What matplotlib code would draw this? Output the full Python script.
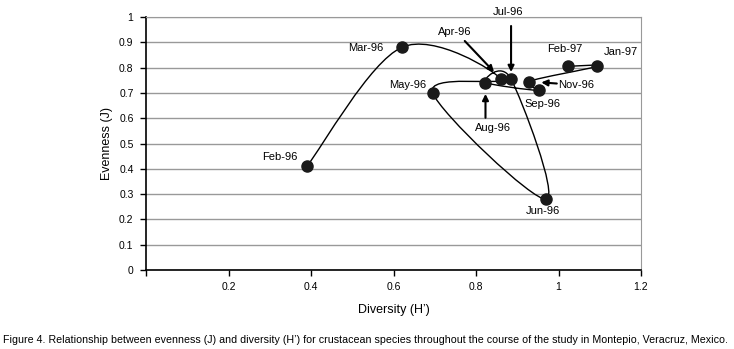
import numpy as np
import matplotlib.pyplot as plt
from matplotlib.path import Path
from matplotlib.patches import PathPatch

# sampling months, in order of the study
months = ["Feb-96", "Mar-96", "Apr-96", "May-96", "Jun-96", "Jul-96",
          "Aug-96", "Sep-96", "Nov-96", "Jan-97", "Feb-97"]
diversity = [0.39, 0.62, 0.86, 0.695, 0.97, 0.885, 0.823, 0.952, 0.928, 1.093, 1.022]
evenness = [0.41, 0.88, 0.755, 0.70, 0.28, 0.755, 0.74, 0.71, 0.745, 0.805, 0.805]

x_ticks = [0, 0.2, 0.4, 0.6, 0.8, 1.0, 1.2]
x_ticklabels = ["", "0.2", "0.4", "0.6", "0.8", "1", "1.2"]
y_ticks = [0, 0.1, 0.2, 0.3, 0.4, 0.5, 0.6, 0.7, 0.8, 0.9, 1.0]
y_ticklabels = ["0", "0.1", "0.2", "0.3", "0.4", "0.5", "0.6", "0.7", "0.8", "0.9", "1"]

caption = ("Figure 4. Relationship between evenness (J) and diversity (H\u2019) for crustacean "
           "species throughout the course of the study in Montepio, Veracruz, Mexico.")

plt.rcParams['font.family'] = ['Liberation Sans Narrow', 'Liberation Sans', 'DejaVu Sans']

fig = plt.figure(figsize=(7.34, 3.49), dpi=100)
ax = fig.add_axes([146 / 734, 1 - 270 / 349, 495 / 734, 253 / 349])
ax.set_xlim(0, 1.2)
ax.set_ylim(0, 1)

ax.set_yticks(y_ticks)
ax.set_yticklabels(y_ticklabels)
ax.set_xticks(x_ticks)
ax.set_xticklabels(x_ticklabels)
ax.tick_params(labelsize=7.5, length=4, width=1, direction='out', color='black')
ax.tick_params(axis='x', pad=5)
ax.tick_params(axis='y', pad=5)
ax.grid(axis='y', color='#999999', lw=1)
ax.set_axisbelow(True)
for s in ['top', 'right']:
    ax.spines[s].set_color('#999999')
for s in ['left', 'bottom']:
    ax.spines[s].set_color('black')
    ax.spines[s].set_linewidth(1.2)

ax.set_xlabel("Diversity (H\u2019)", fontsize=9, labelpad=8.5)
ax.set_ylabel("Evenness (J)", fontsize=9, labelpad=4)

# smoothed line like Excel: cubic bezier, control points from neighbours (in pixel space)
pts = ax.transData.transform(np.column_stack([diversity, evenness]))
n = len(pts)
verts = [pts[0]]
codes = [Path.MOVETO]
for i in range(n - 1):
    p0 = pts[max(i - 1, 0)]
    p1 = pts[i]
    p2 = pts[i + 1]
    p3 = pts[min(i + 2, n - 1)]
    c1 = p1 + (p2 - p0) / 6
    c2 = p2 - (p3 - p1) / 6
    verts += [c1, c2, p2]
    codes += [Path.CURVE4] * 3
verts = ax.transData.inverted().transform(np.array(verts))
ax.add_patch(PathPatch(Path(verts, codes), fill=False, color='black', lw=1.0, zorder=3))

ax.plot(diversity, evenness, 'o', color='#1a1a1a', markersize=8, zorder=4, clip_on=False)

fs = 8
# labels next to points (offsets in pixels)
label_offsets = {
    "Feb-96": (-27, 9), "Mar-96": (-36, -1), "May-96": (-25, 8),
    "Sep-96": (4, -14), "Feb-97": (-3, 17), "Jan-97": (24, 14), "Jun-96": (-3, -12),
}
for m, (dx, dy) in label_offsets.items():
    i = months.index(m)
    ax.annotate(m, (diversity[i], evenness[i]), xytext=(dx, dy), textcoords='offset pixels',
                ha='center', va='center', fontsize=fs)

# labels with arrows
arrow_kw = dict(arrowstyle='-|>', color='black', lw=1.5, mutation_scale=9)
i = months.index("Apr-96")
ax.annotate("", (diversity[i], evenness[i]), xytext=(-36, 38), textcoords='offset pixels',
            arrowprops=dict(shrinkA=0, shrinkB=7, **arrow_kw))
ax.annotate("Apr-96", (diversity[i], evenness[i]), xytext=(-46, 47), textcoords='offset pixels',
            ha='center', va='center', fontsize=fs)
i = months.index("Jul-96")
ax.annotate("", (diversity[i], evenness[i]), xytext=(0, 53), textcoords='offset pixels',
            arrowprops=dict(shrinkA=0, shrinkB=5, **arrow_kw))
ax.annotate("Jul-96", (diversity[i], evenness[i]), xytext=(-3, 67), textcoords='offset pixels',
            ha='center', va='center', fontsize=fs, annotation_clip=False)
i = months.index("Aug-96")
ax.annotate("", (diversity[i], evenness[i]), xytext=(0, -35), textcoords='offset pixels',
            arrowprops=dict(shrinkA=0, shrinkB=8, **arrow_kw))
ax.annotate("Aug-96", (diversity[i], evenness[i]), xytext=(7, -45), textcoords='offset pixels',
            ha='center', va='center', fontsize=fs)
i = months.index("Nov-96")
ax.annotate("", (diversity[i], evenness[i]), xytext=(28, -2), textcoords='offset pixels',
            arrowprops=dict(shrinkA=0, shrinkB=9, **arrow_kw))
ax.annotate("Nov-96", (diversity[i], evenness[i]), xytext=(29, -3), textcoords='offset pixels',
            ha='left', va='center', fontsize=fs)

# caption: shrink until it fits the width of the figure
cap = fig.text(3 / 734, 1 - 340 / 349, caption, ha='left', va='center', fontsize=8)
renderer = fig.canvas.get_renderer()
size = 8.0
while cap.get_window_extent(renderer).width > 727 and size > 5:
    size -= 0.1
    cap.set_fontsize(size)

fig.savefig("out.png", dpi=100)
